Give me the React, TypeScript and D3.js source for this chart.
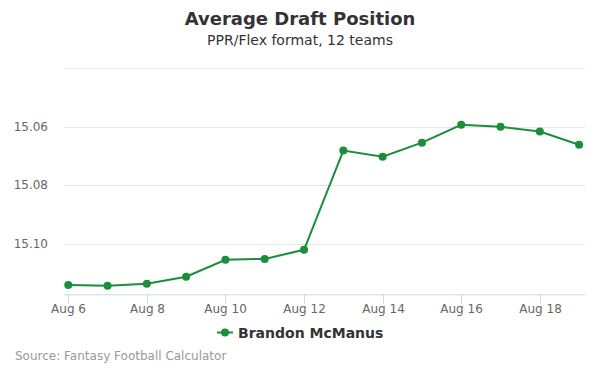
import * as d3 from 'd3';
import { useEffect, useRef } from 'react';

const days = ['2023-08-06', '2023-08-07', '2023-08-08', '2023-08-09', '2023-08-10', '2023-08-11', '2023-08-12',
  '2023-08-13', '2023-08-14', '2023-08-15', '2023-08-16', '2023-08-17', '2023-08-18', '2023-08-19'];
const adp = [15.1140, 15.1143, 15.1136, 15.1112, 15.1054, 15.1051, 15.1020,
  15.0681, 15.0702, 15.0654, 15.0593, 15.0600, 15.0616, 15.0661];
const yTicks = [15.04, 15.06, 15.08, 15.10];
const seriesName = 'Brandon McManus';

const W = 600;
const H = 375;
const FONT = '"DejaVu Sans", sans-serif';
const GREEN = '#1b8e3b';

export default function App() {
  const ref = useRef<SVGSVGElement>(null);

  useEffect(() => {
    const svg = d3.select(ref.current);
    svg.selectAll('*').remove();

    const parse = d3.timeParse('%Y-%m-%d');
    const dates = days.map(d => parse(d) as Date);
    const hour = 3600 * 1000;

    const left = 64, right = 585, top = 68.3, bottom = 294.3;

    const x = d3.scaleTime()
      .domain([new Date(+dates[0] - 2.6 * hour), new Date(+dates[dates.length - 1] + 3.6 * hour)])
      .range([left, right]);

    const y = d3.scaleLinear()
      .domain([15.04, 15.1172])
      .range([top, bottom]);

    svg.append('rect').attr('width', W).attr('height', H).attr('fill', '#fff');

    // title
    svg.append('text')
      .attr('x', W / 2).attr('y', 25)
      .attr('text-anchor', 'middle')
      .style('font', `bold 18px ${FONT}`)
      .attr('fill', '#333')
      .text('Average Draft Position');
    svg.append('text')
      .attr('x', W / 2).attr('y', 45)
      .attr('text-anchor', 'middle')
      .style('font', `14px ${FONT}`)
      .attr('fill', '#333')
      .text('PPR/Flex format, 12 teams');

    // grid
    svg.append('g')
      .selectAll('line')
      .data(yTicks)
      .join('line')
      .attr('x1', left).attr('x2', right)
      .attr('y1', d => Math.round(y(d)) + 0.5).attr('y2', d => Math.round(y(d)) + 0.5)
      .attr('stroke', '#e6e6e6');

    svg.append('g')
      .selectAll('text')
      .data(yTicks.filter(d => d > 15.05))
      .join('text')
      .attr('x', 48).attr('y', d => y(d) + 4)
      .attr('text-anchor', 'end')
      .style('font', `12px ${FONT}`)
      .attr('fill', '#666')
      .text(d => d3.format('.2f')(d));

    // x axis
    const xTicks = dates.filter((_, i) => i % 2 === 0);
    svg.append('line')
      .attr('x1', left).attr('x2', right)
      .attr('y1', bottom + 0.5).attr('y2', bottom + 0.5)
      .attr('stroke', '#ccd6eb');
    const xt = svg.append('g').selectAll('g').data(xTicks).join('g')
      .attr('transform', d => `translate(${Math.round(x(d)) + 0.5},0)`);
    xt.append('line')
      .attr('y1', bottom).attr('y2', bottom + 9)
      .attr('stroke', '#ccd6eb');
    xt.append('text')
      .attr('y', bottom + 19)
      .attr('text-anchor', 'middle')
      .style('font', `12px ${FONT}`)
      .attr('fill', '#666')
      .text(d => d3.timeFormat('Aug %-d')(d));

    // series
    const pts = dates.map((d, i) => ({ d, v: adp[i] }));
    const line = d3.line<{ d: Date; v: number }>().x(p => x(p.d)).y(p => y(p.v));
    svg.append('path')
      .datum(pts)
      .attr('d', line)
      .attr('fill', 'none')
      .attr('stroke', GREEN)
      .attr('stroke-width', 2);
    svg.append('g').selectAll('circle').data(pts).join('circle')
      .attr('cx', p => x(p.d)).attr('cy', p => y(p.v))
      .attr('r', 4)
      .attr('fill', GREEN);

    // legend
    const lg = svg.append('g');
    lg.append('line')
      .attr('x1', 217).attr('x2', 233).attr('y1', 332.5).attr('y2', 332.5)
      .attr('stroke', GREEN).attr('stroke-width', 2);
    lg.append('circle').attr('cx', 225).attr('cy', 332.5).attr('r', 4).attr('fill', GREEN);
    lg.append('text')
      .attr('x', 238).attr('y', 337.5)
      .style('font', `bold 14px ${FONT}`)
      .attr('fill', '#333')
      .text(seriesName);

    // credits
    svg.append('text')
      .attr('x', 15).attr('y', 360)
      .style('font', `12px ${FONT}`)
      .attr('fill', '#999')
      .text('Source: Fantasy Football Calculator');
  }, []);

  return <svg ref={ref} width={W} height={H} style={{ position: 'absolute', left: 0, top: 0 }} />;
}
